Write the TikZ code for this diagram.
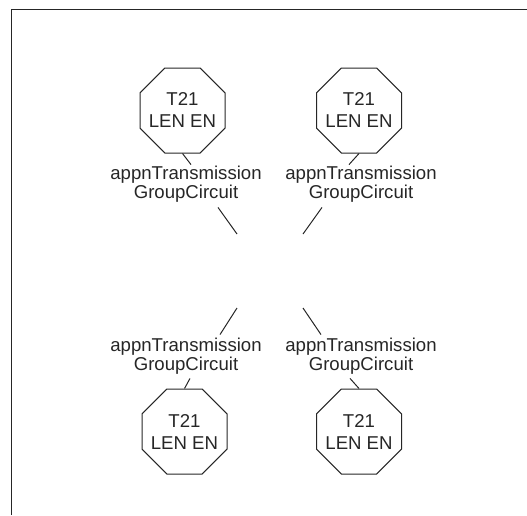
\documentclass[tikz,border=0pt]{standalone}
\usepackage{fontspec}
\setmainfont{Liberation Sans}
\usetikzlibrary{shapes.geometric,calc}

\tikzset{
  oct/.style={draw,regular polygon,regular polygon sides=8,minimum size=92pt,inner sep=-6pt,
    align=center,font=\fontsize{18.6}{22}\selectfont},
  lab/.style={align=center,inner sep=0pt,font=\fontsize{18.6}{18.5}\selectfont}
}

\begin{document}
\begin{tikzpicture}[x=1pt,y=-1pt,line width=1pt,color={black!85}]
\useasboundingbox (0,0) rectangle (527,515);
\draw[line width=1.3pt] (11.8,515) -- (11.8,9.8) -- (527,9.8);

\node[oct] (o1) at (182.5,110.5) {T21\\LEN EN};
\node[oct] (o2) at (359,110.5) {T21\\LEN EN};
\node[oct] (o3) at (184.5,431.5) {T21\\LEN EN};
\node[oct] (o4) at (359,431.5) {T21\\LEN EN};

\node[lab] (l1) at (186,184) {appnTransmission\\GroupCircuit};
\node[lab] (l2) at (361,184) {appnTransmission\\GroupCircuit};
\node[lab] (l3) at (186,356) {appnTransmission\\GroupCircuit};
\node[lab] (l4) at (361,356) {appnTransmission\\GroupCircuit};

\coordinate (h1) at (237,234);
\coordinate (h2) at (303,234);
\coordinate (h3) at (237,308);
\coordinate (h4) at (303,308);

\draw (o1.south) -- ($(l1.north)+(5,-1)$);
\draw (o2.south) -- ($(l2.north)+(-12,-1)$);
\draw (o3.north) -- ($(l3.south)+(4,4)$);
\draw (o4.north) -- ($(l4.south)+(-11,4)$);

\draw ($(l1.south)+(32,5)$) -- (h1);
\draw ($(l2.south)+(-39,5)$) -- (h2);
\draw ($(l3.north)+(34,-3)$) -- (h3);
\draw ($(l4.north)+(-40,-3)$) -- (h4);
\end{tikzpicture}
\end{document}
